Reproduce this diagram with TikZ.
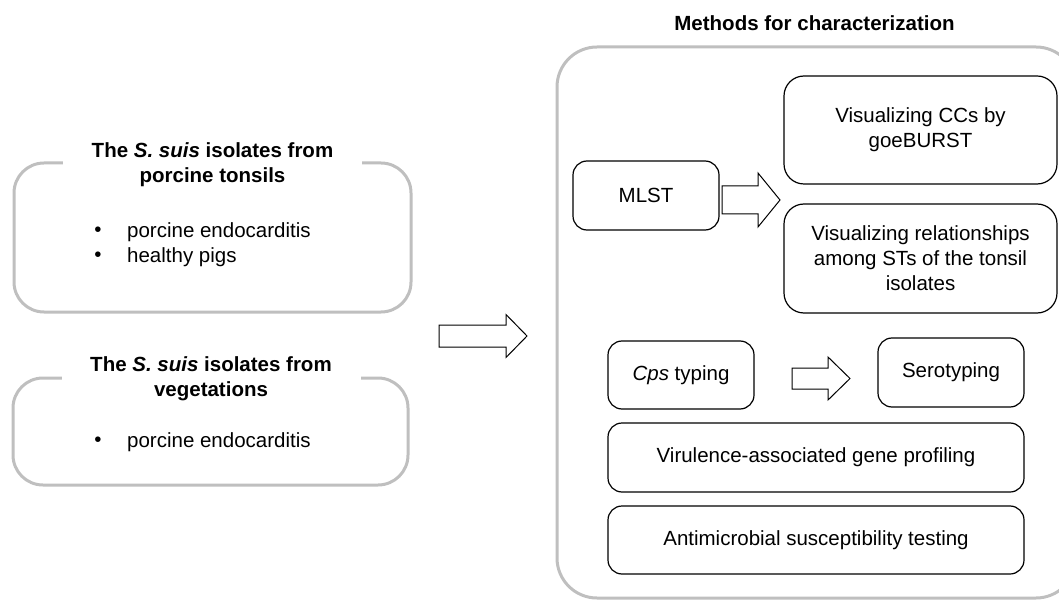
\documentclass[tikz,border=0pt]{standalone}
\usepackage{fontspec}
\setmainfont{Liberation Sans}
\definecolor{boxgray}{RGB}{191,191,191}
\begin{document}
\begin{tikzpicture}[x=1pt,y=-1pt,
  font=\fontsize{20.5}{25}\selectfont,
  graybox/.style={draw=boxgray, line width=3pt, rounded corners=30pt},
  bigbox/.style={draw=boxgray, line width=3pt, rounded corners=40pt},
  titlelabel/.style={fill=white, align=center, inner sep=0pt, minimum width=299pt, font=\fontsize{20.5}{25}\selectfont\bfseries},
  method/.style={draw=black, line width=1.2pt, rounded corners=14pt, align=center, inner sep=0pt},
  methodwide/.style={method, rounded corners=20pt},
  blockarrow/.style={draw=black, line width=1pt, fill=white, line join=miter},
  plain/.style={inner sep=0pt}]
\useasboundingbox (0,0) rectangle (1059,601);
\clip (0,0) rectangle (1059,601);

% left boxes
\draw[graybox] (14,163) rectangle (411,312);
\node[titlelabel] (tonsiltitle) at (212.5,164.5) {The \textit{S. suis} isolates from\\porcine tonsils};
\node[plain] (b1) at (98,232) {•};
\node[plain, anchor=west] (b1t) at (127,232) {porcine endocarditis};
\node[plain] (b2) at (98,257) {•};
\node[plain, anchor=west] (b2t) at (127,257) {healthy pigs};

\draw[graybox] (13,378) rectangle (408,485);
\node[titlelabel] (vegtitle) at (211,378.5) {The \textit{S. suis} isolates from\\vegetations};
\node[plain] (b3) at (98,442) {•};
\node[plain, anchor=west] (b3t) at (127,442) {porcine endocarditis};

% middle arrow
\draw[blockarrow] (439,325) -- (506,325) -- (506,314.5) -- (527,336) -- (506,357.5) -- (506,347) -- (439,347) -- cycle;

% big box
\draw[bigbox] (557,47) rectangle (1076,598);
\node[plain, font=\fontsize{20.5}{25}\selectfont\bfseries] (mtitle) at (814.5,23) {Methods for characterization};

% methods
\node[method, minimum width=146pt, minimum height=69pt] (mlst) at (646,195.5) {MLST};
\node[methodwide, minimum width=273pt, minimum height=108pt] (ccs) at (920.5,130) {Visualizing CCs by\\goeBURST};
\node[methodwide, minimum width=273pt, minimum height=109pt] (rel) at (920.5,258.5) {Visualizing relationships\\among STs of the tonsil\\isolates};
\draw[blockarrow] (722,186) -- (758,186) -- (758,173) -- (780,200) -- (758,227) -- (758,214) -- (722,214) -- cycle;

\node[method, minimum width=146pt, minimum height=68pt] (cps) at (681,375) {\textit{Cps} typing};
\node[method, minimum width=146pt, minimum height=69pt] (sero) at (951,372.5) {Serotyping};
\draw[blockarrow] (792,368) -- (828,368) -- (828,357) -- (850,378.5) -- (828,400) -- (828,389) -- (792,389) -- cycle;

\node[method, minimum width=416pt, minimum height=69pt] (vir) at (816,457.5) {Virulence-associated gene profiling};
\node[method, minimum width=416pt, minimum height=68pt] (amr) at (816,540) {Antimicrobial susceptibility testing};
\end{tikzpicture}
\end{document}
